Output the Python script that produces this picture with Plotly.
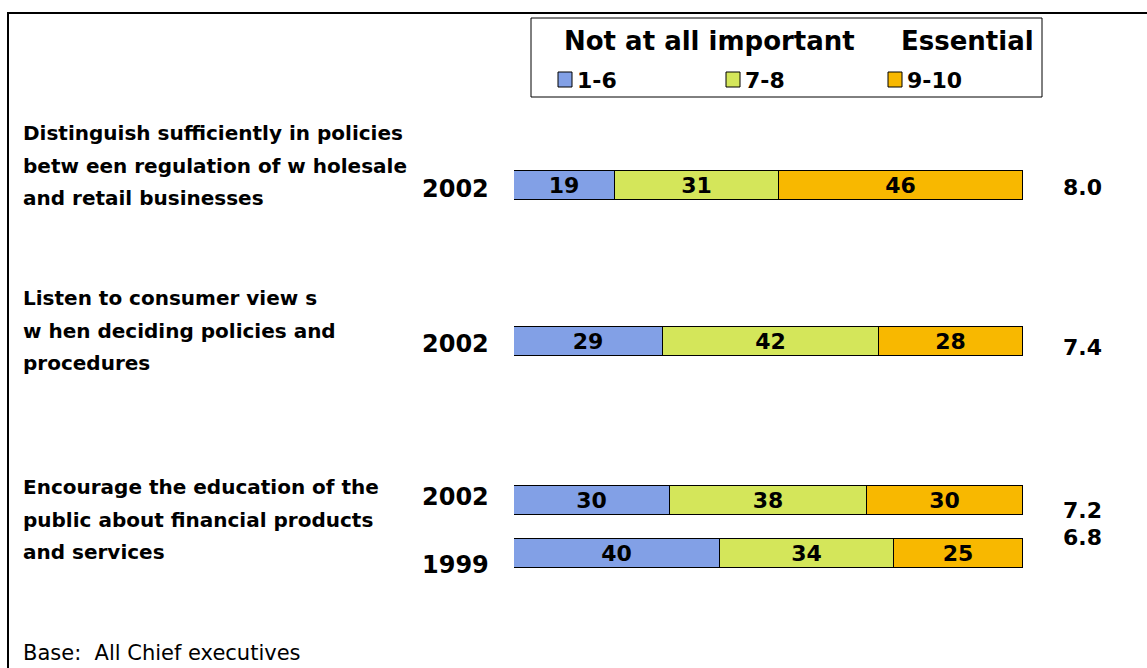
import plotly.graph_objects as go

# ---------------- data ----------------
categories = [
    "Distinguish sufficiently in policies<br>betw een regulation of w holesale<br>and retail businesses",
    "Listen to consumer view s<br>w hen deciding policies and<br>procedures",
    "Encourage the education of the<br>public about financial products<br>and services",
]
years = ["2002", "2002", "2002", "1999"]
score_1_6 = [19, 29, 30, 40]
score_7_8 = [31, 42, 38, 34]
score_9_10 = [46, 28, 30, 25]
mean_score = [8.0, 7.4, 7.2, 6.8]
series_names = ["1-6", "7-8", "9-10"]
series_colors = ["#82A0E6", "#D4E65A", "#F8B800"]
header_left = "Not at all important"
header_right = "Essential"
base_note = "Base:  All Chief executives"

# ---------------- layout constants (pixel positions) ----------------
W, H = 1147, 668
row_y = [185.5, 341, 500.5, 553]          # bar centres
year_y = [189, 344, 497, 565]             # year label centres
mean_y = [187, 347, 510, 537]             # mean label centres
cat_first_line_y = [133, 298, 487]
line_gap = 32.5
bar_h = 29
x0_px, x1_px = 514, 1023

FONT = "DejaVu Sans, Liberation Sans, Arial, sans-serif"


def px(x):
    return x / W


fig = go.Figure()
for name, vals, col in zip(series_names, [score_1_6, score_7_8, score_9_10], series_colors):
    fig.add_trace(go.Bar(
        name=name, x=vals, y=row_y, orientation="h", width=bar_h,
        marker=dict(color=col, line=dict(color="black", width=1)),
        text=[str(v) for v in vals], texttemplate="%{text}", textangle=0,
        textposition="inside", insidetextanchor="middle", constraintext="none",
        textfont=dict(family=FONT, size=22, color="black", weight="bold"),
        hoverinfo="skip", showlegend=False,
    ))

ann = []
# category labels (one annotation per line)
for cat, y0 in zip(categories, cat_first_line_y):
    for i, line in enumerate(cat.split("<br>")):
        ann.append(dict(xref="paper", yref="y", x=px(21), y=y0 + i * line_gap, text=line,
                        showarrow=False, xanchor="left", yanchor="middle",
                        font=dict(family=FONT, size=20, color="black", weight="bold")))
# year labels
for yr, y in zip(years, year_y):
    ann.append(dict(xref="paper", yref="y", x=px(491), y=y, text=yr, showarrow=False,
                    xanchor="right", yanchor="middle",
                    font=dict(family=FONT, size=24, color="black", weight="bold")))
# mean labels
for m, y in zip(mean_score, mean_y):
    ann.append(dict(xref="paper", yref="y", x=px(1061), y=y, text=f"{m:.1f}", showarrow=False,
                    xanchor="left", yanchor="middle",
                    font=dict(family=FONT, size=22, color="black", weight="bold")))
# legend header
ann.append(dict(xref="paper", yref="y", x=px(709), y=41, text=header_left, showarrow=False,
                xanchor="center", yanchor="middle",
                font=dict(family=FONT, size=26, color="black", weight="bold")))
ann.append(dict(xref="paper", yref="y", x=px(968), y=41, text=header_right, showarrow=False,
                xanchor="center", yanchor="middle",
                font=dict(family=FONT, size=26, color="black", weight="bold")))
# legend entries
leg_sq_x = [558, 726, 888]
shapes = []
for name, col, sx in zip(series_names, series_colors, leg_sq_x):
    shapes.append(dict(type="rect", xref="paper", yref="y", x0=px(sx), x1=px(sx + 14),
                       y0=72, y1=87, fillcolor=col, line=dict(color="black", width=1)))
    ann.append(dict(xref="paper", yref="y", x=px(sx + 17), y=80, text=name, showarrow=False,
                    xanchor="left", yanchor="middle",
                    font=dict(family=FONT, size=22, color="black", weight="bold")))
# base note
ann.append(dict(xref="paper", yref="y", x=px(21), y=653, text=base_note, showarrow=False,
                xanchor="left", yanchor="middle",
                font=dict(family=FONT, size=21, color="black")))

# frame lines and legend box
shapes += [
    dict(type="line", xref="paper", yref="y", x0=px(7), x1=1, y0=13, y1=13,
         line=dict(color="black", width=2)),
    dict(type="line", xref="paper", yref="y", x0=px(8), x1=px(8), y0=13, y1=H,
         line=dict(color="black", width=2)),
    dict(type="rect", xref="paper", yref="y", x0=px(531), x1=px(1042), y0=18, y1=97,
         line=dict(color="black", width=1)),
]

fig.update_layout(
    width=W, height=H, margin=dict(l=0, r=0, t=0, b=0, autoexpand=False),
    paper_bgcolor="white", plot_bgcolor="white",
    barmode="stack", barnorm="percent", bargap=0,
    xaxis=dict(domain=[x0_px / W, x1_px / W], range=[0, 100], visible=False, fixedrange=True),
    yaxis=dict(domain=[0, 1], range=[H, 0], visible=False, fixedrange=True),
    annotations=ann, shapes=shapes, showlegend=False,
)

fig.write_html("out.html")
